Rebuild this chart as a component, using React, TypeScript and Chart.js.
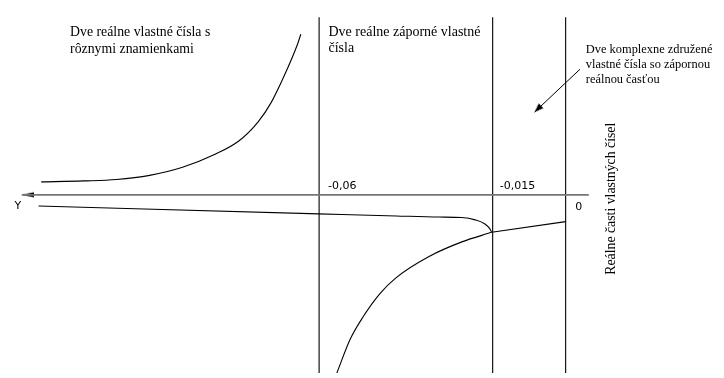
import React, { useEffect, useRef } from 'react';
import { Chart, registerables } from 'chart.js';

Chart.register(...registerables);

// Schematic diagram units: horizontal = parameter Y, vertical = real parts of eigenvalues.
const xRange = [-5.68, 1.56];
const yRange = [-1.83, 1.95];

// Region boundaries on the Y axis and their labels
const boundaryX = [-2.495, -0.735, 0.005];
const boundaryLabels = ['-0,06', '-0,015', '0'];
const boundaryTop = 1.825;

// Horizontal Y axis (arrow points to the left)
const axisX = [0.24, -5.51];

// Real eigenvalues with opposite signs: positive branch
const positiveBranchX = [-5.313, -4.88, -4.55, -4.213, -3.88, -3.55, -3.313, -3.113, -2.98, -2.85, -2.713, -2.68];
const positiveBranchY = [0.133, 0.143, 0.157, 0.2, 0.283, 0.417, 0.55, 0.75, 0.95, 1.22, 1.55, 1.65];

// Negative branch (upper), meeting the lower one at the double root
const upperBranchX = [-5.34, -2.5, -1.713, -1.28, -1.047, -0.913, -0.813, -0.763, -0.745];
const upperBranchY = [-0.115, -0.195, -0.217, -0.228, -0.233, -0.257, -0.3, -0.35, -0.385];

// Negative branch (lower)
const lowerBranchX = [-2.315, -2.18, -2.047, -1.88, -1.713, -1.38, -1.047, -0.745];
const lowerBranchY = [-1.83, -1.483, -1.25, -1.017, -0.85, -0.633, -0.483, -0.385];

// Common real part of the complex conjugate pair
const complexPartX = [-0.745, 0.005];
const complexPartY = [-0.385, -0.275];

// Pointer towards the complex region
const pointerX = [0.15, -0.31];
const pointerY = [1.29, 0.85];

const regionNotes = [
  ['Dve reálne vlastné čísla s', 'rôznymi znamienkami'],
  ['Dve reálne záporné vlastné', 'čísla'],
  ['Dve komplexne združené', 'vlastné čísla so zápornou', 'reálnou časťou'],
];
const axisName = 'Y';
const valueAxisName = 'Reálne časti vlastných čísel';

const pts = (xs: number[], ys: number[]) => xs.map((x, i) => ({ x, y: ys[i] }));

function arrowHead(len: number, half: number): HTMLCanvasElement {
  const c = document.createElement('canvas');
  c.width = len * 2;
  c.height = Math.ceil(half * 2) + 2;
  const g = c.getContext('2d')!;
  const cy = c.height / 2;
  g.fillStyle = '#000';
  g.beginPath();
  g.moveTo(0, cy - half);
  g.lineTo(len, cy);
  g.lineTo(0, cy + half);
  g.closePath();
  g.fill();
  return c;
}

export default function App() {
  const ref = useRef<HTMLCanvasElement | null>(null);

  useEffect(() => {
    const canvas = ref.current;
    if (!canvas) return;
    const axisTip = arrowHead(12, 2.6);
    const pointerTip = arrowHead(9, 3.2);

    const lineStyle = {
      showLine: true,
      pointRadius: 0,
      borderColor: '#000',
      borderWidth: 1.1,
      fill: false,
    };

    const notes = {
      id: 'notes',
      afterDatasetsDraw(chart: Chart) {
        const ctx = chart.ctx;
        const sx = chart.scales.x;
        const sy = chart.scales.y;
        ctx.save();
        ctx.fillStyle = '#000';
        ctx.textBaseline = 'middle';
        ctx.textAlign = 'left';

        // tick labels at the region boundaries
        ctx.font = '11px "DejaVu Sans"';
        const y0 = sy.getPixelForValue(0);
        boundaryLabels.forEach((t, i) => {
          const px = sx.getPixelForValue(boundaryX[i]);
          if (i === boundaryLabels.length - 1) {
            ctx.textAlign = 'center';
            ctx.fillText(t, px + 13, y0 + 12);
            ctx.textAlign = 'left';
          } else {
            ctx.fillText(t, px + (i === 0 ? 9 : 7), y0 - 9);
          }
        });
        ctx.textAlign = 'center';
        ctx.fillText(axisName, sx.getPixelForValue(-5.55), y0 + 11);

        // region descriptions
        ctx.textAlign = 'left';
        const anchors = [
          { x: -5.02, y: 1.67, lh: 17, size: 13.8 },
          { x: -2.4, y: 1.67, lh: 16, size: 14 },
          { x: 0.21, y: 1.493, lh: 15, size: 12.4 },
        ];
        regionNotes.forEach((lines, i) => {
          const a = anchors[i];
          ctx.font = `${a.size}px "Liberation Serif"`;
          const px = sx.getPixelForValue(a.x);
          const py = sy.getPixelForValue(a.y);
          lines.forEach((l, k) => ctx.fillText(l, px, py + k * a.lh));
        });

        // vertical axis title
        ctx.font = '13.8px "Liberation Serif"';
        ctx.translate(sx.getPixelForValue(0.47), sy.getPixelForValue(-0.04));
        ctx.rotate(-Math.PI / 2);
        ctx.textAlign = 'center';
        ctx.fillText(valueAxisName, 0, 0);
        ctx.restore();
      },
    };

    const chart = new Chart(canvas, {
      type: 'scatter',
      data: {
        datasets: [
          // axis
          { ...lineStyle, data: pts(axisX, [0, 0]), borderColor: '#767676', borderWidth: 1.6 },
          {
            data: [{ x: axisX[1], y: 0 }],
            pointStyle: axisTip,
            rotation: 180,
            pointRadius: 4,
            showLine: false,
          },
          // region boundaries
          ...boundaryX.map((bx) => ({
            ...lineStyle,
            data: [
              { x: bx, y: boundaryTop },
              { x: bx, y: yRange[0] },
            ],
          })),
          // eigenvalue branches
          { ...lineStyle, data: pts(positiveBranchX, positiveBranchY), cubicInterpolationMode: 'monotone' as const },
          { ...lineStyle, data: pts(upperBranchX, upperBranchY), cubicInterpolationMode: 'monotone' as const },
          { ...lineStyle, data: pts(lowerBranchX, lowerBranchY), cubicInterpolationMode: 'monotone' as const },
          { ...lineStyle, data: pts(complexPartX, complexPartY) },
          // pointer
          { ...lineStyle, data: pts(pointerX, pointerY), borderWidth: 1 },
          {
            data: [{ x: pointerX[1], y: pointerY[1] }],
            pointStyle: pointerTip,
            rotation: 136,
            pointRadius: 4,
            showLine: false,
          },
        ],
      },
      options: {
        animation: false,
        responsive: false,
        events: [],
        layout: { padding: 0 },
        plugins: { legend: { display: false }, tooltip: { enabled: false } },
        scales: {
          x: { type: 'linear', min: xRange[0], max: xRange[1], display: false },
          y: { type: 'linear', min: yRange[0], max: yRange[1], display: false },
        },
      },
      plugins: [notes],
    });
    return () => chart.destroy();
  }, []);

  return (
    <div style={{ position: 'absolute', left: 0, top: 0, width: 724, height: 378, background: '#fff' }}>
      <canvas ref={ref} width={724} height={378} style={{ width: 724, height: 378, display: 'block' }} />
    </div>
  );
}
